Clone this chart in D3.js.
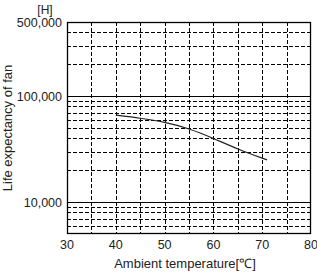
<!DOCTYPE html>
<html><head><meta charset="utf-8">
<script src="https://cdn.jsdelivr.net/npm/d3@7"></script>
<style>
html,body{margin:0;padding:0;background:#fff;}
svg text{font-family:"Liberation Sans",Arial,sans-serif;fill:#222;}
</style></head>
<body><svg id="c" width="317" height="273"></svg>
<script>
const temps = [40, 45, 50, 55, 60, 65, 71];
const lifeHours = [66000, 62000, 57000, 49500, 40000, 31500, 25000];
const xTicks = [30, 40, 50, 60, 70, 80];
const xGrid = [35, 40, 45, 50, 55, 60, 65, 70, 75];
const yLabels = [500000, 100000, 10000];
const ySolid = [10000, 100000];
const yDashed = [6000, 7000, 8000, 9000, 20000, 30000, 40000, 50000, 60000, 70000, 80000, 90000, 200000, 300000, 400000];

const svg = d3.select("#c");
const L = 67, R = 311, T = 22, B = 234;
const x = d3.scaleLinear().domain([30, 80]).range([L, R]);
const y = d3.scaleLog().domain([5000, 500000]).range([B, T]);
const fmt = d3.format(",");

// dashed grid
svg.append("g").selectAll("line").data(yDashed).join("line")
  .attr("x1", L).attr("x2", R).attr("y1", d => Math.round(y(d)) + 0.5).attr("y2", d => Math.round(y(d)) + 0.5)
  .attr("stroke", "#000").attr("stroke-width", 1).attr("stroke-dasharray", "4,2");
svg.append("g").selectAll("line").data(xGrid).join("line")
  .attr("y1", T).attr("y2", B).attr("x1", d => Math.round(x(d)) + 0.5).attr("x2", d => Math.round(x(d)) + 0.5)
  .attr("stroke", "#000").attr("stroke-width", 1).attr("stroke-dasharray", "4,2");
// solid grid
svg.append("g").selectAll("line").data(ySolid).join("line")
  .attr("x1", L).attr("x2", R).attr("y1", d => Math.round(y(d)) + 0.5).attr("y2", d => Math.round(y(d)) + 0.5)
  .attr("stroke", "#000").attr("stroke-width", 1);
// frame
svg.append("rect").attr("x", L + 0.5).attr("y", T + 0.5).attr("width", R - L - 1).attr("height", B - T - 1)
  .attr("fill", "none").attr("stroke", "#000").attr("stroke-width", 1.3);

// curve
const line = d3.line().x((d, i) => x(temps[i])).y(d => y(d)).curve(d3.curveBasis);
svg.append("path").datum(lifeHours).attr("d", line)
  .attr("fill", "none").attr("stroke", "#222").attr("stroke-width", 1.2);

// y labels
svg.append("g").selectAll("text").data(yLabels).join("text")
  .attr("x", 62).attr("y", d => y(d) + 4.5).attr("text-anchor", "end")
  .attr("font-size", "12.5px").text(d => fmt(d));
// x labels
svg.append("g").selectAll("text").data(xTicks).join("text")
  .attr("x", d => x(d)).attr("y", 249).attr("text-anchor", "middle")
  .attr("font-size", "12.5px").text(d => d);

svg.append("text").attr("x", 45).attr("y", 13.5).attr("text-anchor", "middle")
  .attr("font-size", "12px").text("[H]");
svg.append("text").attr("x", 185).attr("y", 268).attr("text-anchor", "middle")
  .attr("font-size", "13px").text("Ambient temperature[℃]");
svg.append("text").attr("transform", "translate(12,128) rotate(-90)").attr("text-anchor", "middle")
  .attr("font-size", "13px").text("Life expectancy of fan");
</script></body></html>
